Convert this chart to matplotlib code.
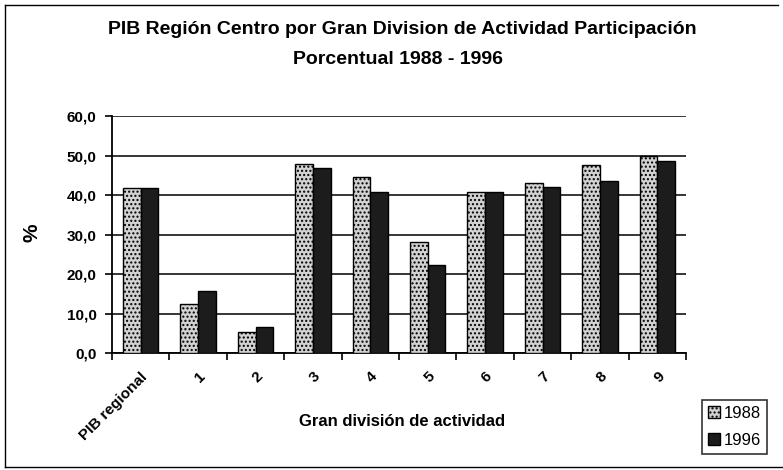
import matplotlib.pyplot as plt
import numpy as np

plt.rcParams['font.family'] = ['Liberation Sans', 'DejaVu Sans']
plt.rcParams['hatch.color'] = '#8a8a8a'

categories = ['PIB regional', '1', '2', '3', '4', '5', '6', '7', '8', '9']
pib_1988 = [41.8, 12.3, 5.2, 47.8, 44.5, 28.1, 40.7, 43.1, 47.7, 50.0]
pib_1996 = [41.8, 15.8, 6.5, 46.9, 40.7, 22.2, 40.7, 41.9, 43.6, 48.6]
y_ticks = [0, 10, 20, 30, 40, 50, 60]

W, H = 783, 470
fig = plt.figure(figsize=(W / 100, H / 100), dpi=100)
ax = fig.add_axes([112 / W, 1 - 353 / H, (686 - 112) / W, (353 - 116) / H])

x = np.arange(len(categories))
w = 0.31
ax.bar(x - w / 2, pib_1988, w, color='#d2d2d2', edgecolor='black', linewidth=1.0,
       hatch='....', label='1988', zorder=3)
ax.bar(x + w / 2, pib_1996, w, color='#1c1c1c', edgecolor='black', linewidth=1.0,
       label='1996', zorder=3)

ax.set_xlim(-0.5, len(categories) - 0.5)
ax.set_ylim(0, 60)
ax.set_yticks(y_ticks)
ax.set_yticklabels([f'{v:.1f}'.replace('.', ',') for v in y_ticks],
                   fontsize=11, fontweight='bold')
ax.yaxis.grid(True, color='black', linewidth=1.1, zorder=0)
ax.set_axisbelow(True)

ax.set_xticks(x)
ax.set_xticklabels(categories, rotation=45, ha='right', rotation_mode='anchor',
                   fontsize=11, fontweight='bold')
ax.tick_params(axis='x', which='major', length=0, pad=12)
ax.set_xticks(np.arange(-0.5, len(categories)), minor=True)
ax.tick_params(axis='x', which='minor', length=5, width=1.2, direction='out')
ax.tick_params(axis='y', length=5, width=1.2, direction='out', pad=6)

for side in ['top', 'right']:
    ax.spines[side].set_visible(False)
for side in ['left', 'bottom']:
    ax.spines[side].set_linewidth(1.3)

ax.set_xlabel('Gran división de actividad', fontsize=12, fontweight='bold')
ax.xaxis.set_label_coords((402 - 112) / (686 - 112), -(422 - 353) / (353 - 116))
ax.xaxis.label.set_va('center')
ax.set_ylabel('%', fontsize=15, fontweight='bold')
ax.yaxis.set_label_coords(-(112 - 32) / (686 - 112), (353 - 233) / (353 - 116))
ax.yaxis.label.set_va('center')

fig.text(402 / W, 1 - 30 / H, 'PIB Región Centro por Gran Division de Actividad Participación',
         ha='center', va='center', fontsize=14, fontweight='bold')
fig.text(398 / W, 1 - 60 / H, 'Porcentual 1988 - 1996',
         ha='center', va='center', fontsize=14, fontweight='bold')

leg = fig.legend(loc='lower right', bbox_to_anchor=(767 / W, 1 - 454 / H),
                 fontsize=12, frameon=True, fancybox=False, edgecolor='black',
                 handlelength=0.7, handleheight=0.7, handletextpad=0.25,
                 borderpad=0.35, labelspacing=0.75, borderaxespad=0)
leg.get_frame().set_linewidth(1.2)

# outer chart border (left, top, bottom)
fig.add_artist(plt.Line2D([5 / W, 5 / W], [1 - 5 / H, 1 - 467 / H],
                          transform=fig.transFigure, color='black', linewidth=1.0))
fig.add_artist(plt.Line2D([5 / W, 778 / W], [1 - 5 / H, 1 - 5 / H],
                          transform=fig.transFigure, color='black', linewidth=1.0))
fig.add_artist(plt.Line2D([5 / W, 783 / W], [1 - 467 / H, 1 - 467 / H],
                          transform=fig.transFigure, color='black', linewidth=1.0))

fig.savefig('out.png', dpi=100)
